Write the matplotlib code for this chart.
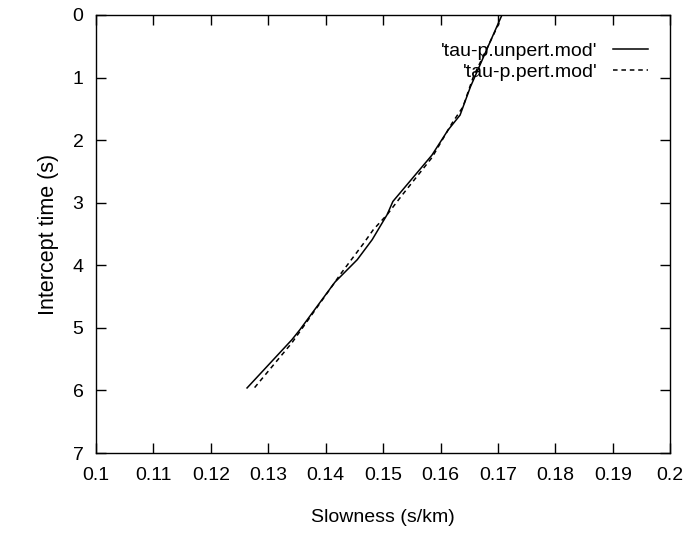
import matplotlib
matplotlib.use('Agg')
import matplotlib.pyplot as plt

# tau-p curves (slowness s/km, intercept time s)
unpert_p = [0.1707, 0.1683, 0.1652, 0.1634, 0.1613, 0.1585, 0.1517, 0.1507,
            0.1481, 0.1455, 0.1416, 0.1355, 0.1341, 0.1263]
unpert_tau = [0.0, 0.5, 1.15, 1.6, 1.84, 2.24, 2.98, 3.19,
              3.59, 3.91, 4.27, 5.03, 5.19, 5.96]

pert_p = [0.1702, 0.1657, 0.1639, 0.1620, 0.1585, 0.1533, 0.1507, 0.1483,
          0.1466, 0.1425, 0.1416, 0.1341, 0.1272]
pert_tau = [0.13, 0.99, 1.47, 1.73, 2.28, 2.88, 3.19, 3.43,
            3.65, 4.15, 4.27, 5.24, 6.0]

x_ticks = [0.1, 0.11, 0.12, 0.13, 0.14, 0.15, 0.16, 0.17, 0.18, 0.19, 0.2]
x_labels = ['0.1', '0.11', '0.12', '0.13', '0.14', '0.15', '0.16', '0.17', '0.18', '0.19', '0.2']
y_ticks = [0, 1, 2, 3, 4, 5, 6, 7]

plt.rcParams['font.family'] = ['Liberation Sans', 'DejaVu Sans']
plt.rcParams['font.size'] = 14

fig = plt.figure(figsize=(6.86, 5.33), dpi=100)
ax = fig.add_axes([0.14, 0.15, 0.837, 0.822])

ax.plot(unpert_p, unpert_tau, color='black', linewidth=1.1, label="'tau-p.unpert.mod'")
ax.plot(pert_p, pert_tau, color='black', linewidth=1.1, linestyle=(0, (3, 2.5)),
        label="'tau-p.pert.mod'")

ax.set_xlim(0.1, 0.2)
ax.set_ylim(7, 0)
ax.set_xticks(x_ticks)
ax.set_xticklabels(x_labels)
ax.set_yticks(y_ticks)
ax.tick_params(direction='in', top=True, right=True, length=7, width=1,
               labelsize=14)
ax.tick_params(axis='x', pad=10)
ax.tick_params(axis='y', pad=9)
for spine in ax.spines.values():
    spine.set_linewidth(1)

ax.set_xlabel('Slowness (s/km)', fontsize=14, labelpad=18)
ax.set_ylabel('Intercept time (s)', fontsize=15.5, labelpad=10)

ax.legend(loc='upper right', frameon=False, markerfirst=False, handlelength=1.8,
          handletextpad=0.8, fontsize=14, labelspacing=0.2, borderpad=0,
          borderaxespad=0, bbox_to_anchor=(0.962, 0.938))

fig.savefig('out.png', dpi=100)
